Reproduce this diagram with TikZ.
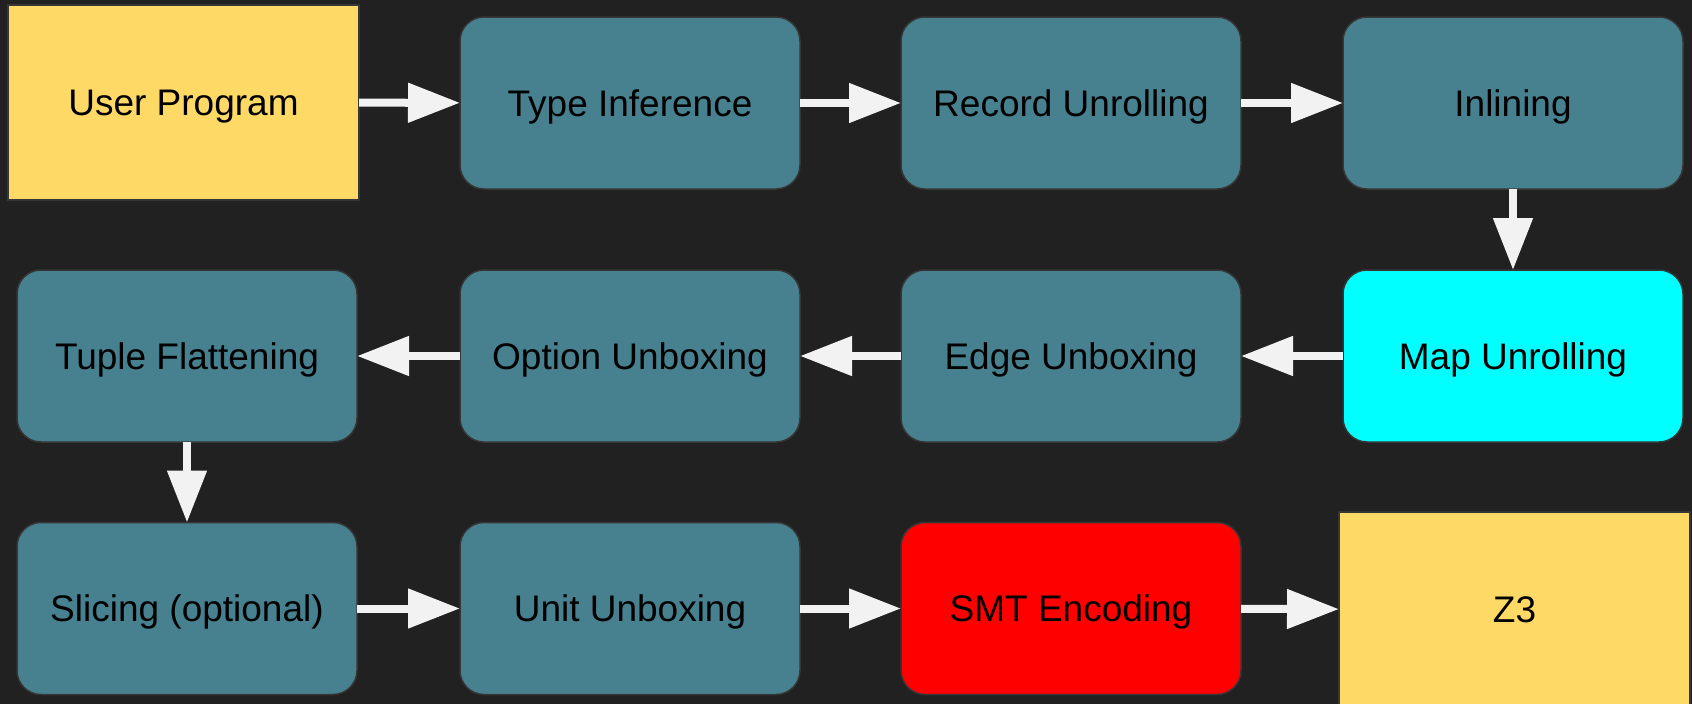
\documentclass[tikz,border=0pt]{standalone}
\usepackage{fontspec}
\setmainfont{Liberation Sans}
\usetikzlibrary{arrows.meta}
\definecolor{bg}{HTML}{212121}
\definecolor{bord}{HTML}{363636}
\definecolor{teal}{HTML}{47818F}
\definecolor{ylw}{HTML}{FFD966}
\definecolor{cyn}{HTML}{00FFFF}
\definecolor{rd}{HTML}{FF0000}
\definecolor{arrw}{HTML}{F2F2F2}
\tikzset{
  boxtext/.style={font=\fontsize{37}{44}\selectfont, text=black,
    text height=26.5pt, text depth=0pt},
  stage/.style={boxtext, draw=bord, line width=1.5pt, fill=teal, rounded corners=24pt,
    minimum width=340pt, minimum height=172pt, inner sep=0pt, outer sep=0pt},
  term/.style={boxtext, draw=bord, line width=1.5pt, fill=ylw,
    minimum width=351pt, minimum height=195pt, inner sep=0pt, outer sep=0pt},
  arr/.style={draw=arrw, line width=8pt, -{Triangle[length=52pt,width=38pt]}}
}
\begin{document}
\begin{tikzpicture}[x=1pt,y=-1pt]
\fill[bg] (0,0) rectangle (1692,704);
\useasboundingbox (0,0) rectangle (1692,704);
% row 1
\node[term] (up) at (183.5,102.5) {User Program};
\node[stage] (ti) at (630,103) {Type Inference};
\node[stage] (ru) at (1071,103) {Record Unrolling};
\node[stage] (in) at (1513,103) {Inlining};
% row 2
\node[stage, fill=cyn] (mu) at (1513,356) {Map Unrolling};
\node[stage] (eu) at (1071,356) {Edge Unboxing};
\node[stage] (ou) at (630,356) {Option Unboxing};
\node[stage] (tf) at (187,356) {Tuple Flattening};
% row 3
\node[stage] (sl) at (187,608.5) {Slicing (optional)};
\node[stage] (uu) at (630,608.5) {Unit Unboxing};
\node[stage, fill=rd] (smt) at (1071,608.5) {SMT Encoding};
\node[term] (z3) at (1514.5,609.5) {Z3};
% connectors
\draw[arr] (up) -- (ti);
\draw[arr] (ti) -- (ru);
\draw[arr] (ru) -- (in);
\draw[arr] (in) -- (mu);
\draw[arr] (mu) -- (eu);
\draw[arr] (eu) -- (ou);
\draw[arr] (ou) -- (tf);
\draw[arr] (tf) -- (sl);
\draw[arr] (sl) -- (uu);
\draw[arr] (uu) -- (smt);
\draw[arr] (smt) -- (z3);
\end{tikzpicture}
\end{document}
